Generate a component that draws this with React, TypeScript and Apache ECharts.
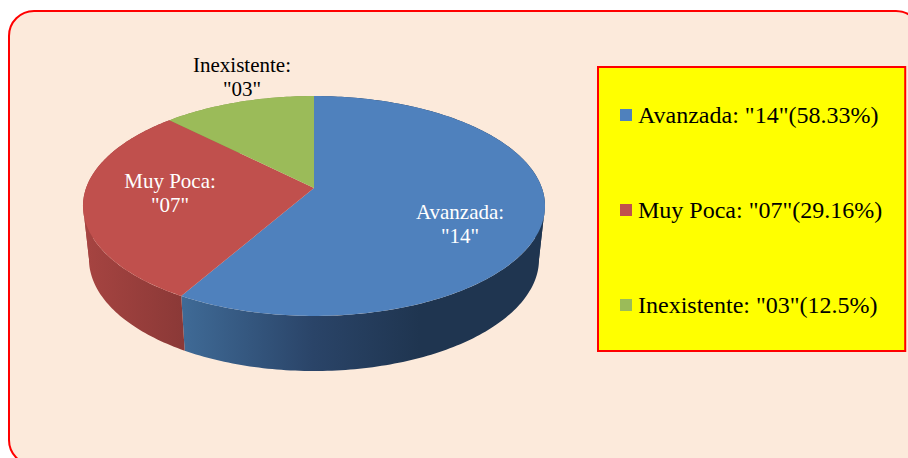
import React, { useEffect, useRef } from "react";
import * as echarts from "echarts";

const categories = ["Avanzada", "Muy Poca", "Inexistente"];
const counts = [14, 7, 3];
const countLabels = ['"14"', '"07"', '"03"'];
const percentLabels = ["58.33%", "29.16%", "12.5%"];
const sliceColors = ["#4F81BD", "#C0504D", "#9BBB59"];
const labelColors = ["#FFFFFF", "#FFFFFF", "#000000"];
const labelCenters = [
  [460, 224],
  [170, 193],
  [242, 77],
];

const FONT = '"Liberation Serif", "Times New Roman", serif';
const TOP = { cx: 314, cy: 188, a: 227.9, b: 107 };
const BOTTOM = { cx: 314, cy: 240.7, a: 222, b: 109 };
const K = 0.1636;
const SILHOUETTE = [99.4, 260.6];

const total = counts.reduce((s, v) => s + v, 0);
const legendNames = categories.map((c, i) => `${c}: ${countLabels[i]}(${percentLabels[i]})`);

function project(p: typeof TOP, deg: number): number[] {
  const t = (deg * Math.PI) / 180;
  const u = Math.sin(t);
  const v = Math.cos(t);
  const w = 1 + K * v;
  return [p.cx + (p.a * u) / w, p.cy - (p.b * v) / w];
}

function sliceRange(i: number): number[] {
  const before = counts.slice(0, i).reduce((s, v) => s + v, 0);
  return [(before / total) * 360, ((before + counts[i]) / total) * 360];
}

function arc(p: typeof TOP, from: number, to: number): number[][] {
  const n = Math.max(2, Math.ceil(Math.abs(to - from)));
  const out: number[][] = [];
  for (let j = 0; j <= n; j++) out.push(project(p, from + ((to - from) * j) / n));
  return out;
}

function wallFill(i: number): any {
  if (i === 0) {
    return {
      type: "linear", global: true, x: 183, y: 0, x2: 420, y2: 0,
      colorStops: [
        { offset: 0, color: "#3F6A96" },
        { offset: 0.55, color: "#2A4468" },
        { offset: 1, color: "#1F3550" },
      ],
    };
  }
  if (i === 1) {
    return {
      type: "linear", global: true, x: 85, y: 0, x2: 183, y2: 0,
      colorStops: [
        { offset: 0, color: "#A64441" },
        { offset: 1, color: "#8B3937" },
      ],
    };
  }
  return "#7C9647";
}

function renderWalls(params: any) {
  const i = params.dataIndex;
  const [start, end] = sliceRange(i);
  const cuts = [start, ...SILHOUETTE.filter((s) => s > start && s < end), end];
  const children: any[] = [];
  for (let c = 0; c < cuts.length - 1; c++) {
    const topArc = arc(TOP, cuts[c], cuts[c + 1]);
    const bottomArc = arc(BOTTOM, cuts[c], cuts[c + 1]).reverse();
    children.push({
      type: "polygon",
      shape: { points: [...topArc, ...bottomArc] },
      style: { fill: wallFill(i) },
    });
  }
  return { type: "group", children };
}

function renderTop(i: number) {
  return () => {
    const [start, end] = sliceRange(i);
    return {
      type: "polygon",
      shape: { points: [[TOP.cx, TOP.cy], ...arc(TOP, start, end)] },
      style: { fill: sliceColors[i] },
    };
  };
}

export default function App() {
  const ref = useRef<HTMLDivElement>(null);
  useEffect(() => {
    document.body.style.margin = "0";
    const chart = echarts.init(ref.current!, undefined, { renderer: "svg" });
    chart.setOption({
      animation: false,
      backgroundColor: "#FFFFFF",
      legend: {
        orient: "vertical",
        left: 598,
        top: 67,
        padding: [36, 23, 34, 22],
        itemWidth: 12,
        itemHeight: 12,
        itemGap: 71,
        icon: "rect",
        backgroundColor: "#FFFF00",
        borderColor: "#FF0000",
        borderWidth: 2,
        selectedMode: false,
        textStyle: { fontFamily: FONT, fontSize: 24, color: "#000000", padding: [0, 0, 0, 1] },
        data: legendNames,
      },
      graphic: [
        {
          type: "rect",
          z: -10,
          shape: { x: 9, y: 11, width: 912, height: 454, r: 25 },
          style: { fill: "#FCEADB", stroke: "#FF0000", lineWidth: 2 },
        },
        ...categories.map((c, i) => ({
          type: "text",
          z: 100,
          x: labelCenters[i][0],
          y: labelCenters[i][1],
          style: {
            text: `${c}:\n${countLabels[i]}`,
            fill: labelColors[i],
            font: `21px ${FONT}`,
            lineHeight: 24,
            align: "center",
            verticalAlign: "middle",
          },
        })),
      ],
      series: [
        {
          type: "custom",
          name: "walls",
          coordinateSystem: "none",
          z: 2,
          silent: true,
          data: counts,
          renderItem: renderWalls,
        },
        ...legendNames.map((name, i) => ({
          type: "custom",
          name,
          coordinateSystem: "none",
          z: 3,
          silent: true,
          itemStyle: { color: sliceColors[i] },
          data: [counts[i]],
          renderItem: renderTop(i),
        })),
      ],
    });
    return () => chart.dispose();
  }, []);
  return <div ref={ref} style={{ width: 908, height: 458, position: "absolute", left: 0, top: 0 }} />;
}
